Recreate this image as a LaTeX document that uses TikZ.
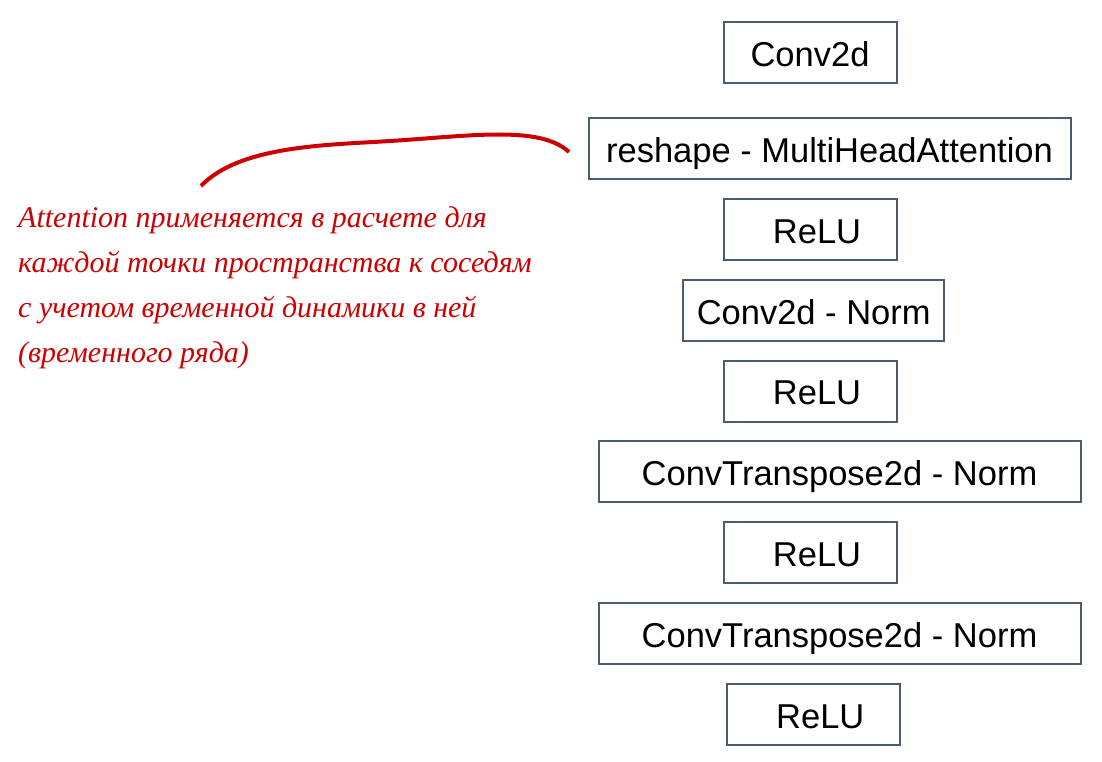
\documentclass[tikz,border=0pt]{standalone}
\usepackage{fontspec}
\setmainfont{Liberation Sans}
\newfontfamily\notefont{Liberation Serif}
\usepackage{tikz}
\definecolor{edge}{RGB}{77,91,112}
\definecolor{ink}{RGB}{204,0,0}
\def\rl{\hspace*{14pt}ReLU}

\begin{document}
\begin{tikzpicture}[x=1pt, y=-1pt,
    layer/.style={draw=edge, line width=2pt, minimum height=61pt, inner sep=0pt,
      text height=27.8pt, text depth=0pt, font=\fontsize{34.5}{40}\selectfont},
    note/.style={font=\notefont\itshape\fontsize{30}{45}\selectfont, text=ink,
      align=left, inner sep=0pt, anchor=north west}]
        \useasboundingbox (0,0) rectangle (1102,762);
        \foreach \n/\x/\y/\w/\t in {1/810/52.8/173/Conv2d,
            2/829.5/148.5/482/reshape - MultiHeadAttention,
            3/810/229.5/173/\rl,
            4/813.7/310.2/261/Conv2d - Norm,
            5/810/391/173/\rl,
            6/839.5/471.7/482/ConvTranspose2d - Norm,
            7/810/552.5/173/\rl,
            8/839.5/633.5/482/ConvTranspose2d - Norm,
            9/813.3/714.2/173/\rl}{
        \node[layer, minimum width=\w pt] (b\n) at (\x,\y) {\t};
        }
        \node[note] (txt) at (18,206) {Attention применяется в расчете для\\
          каждой точки пространства к соседям\\
          с учетом временной динамики в ней\\
          (временного ряда)};
        \coordinate (c0) at (201,186);
        \coordinate (c1) at (390,141);
        \coordinate (c2) at (569,152);
        \draw[ink, line width=4pt] (c0) .. controls (240,145) and (330,145) .. (c1)
          .. controls (470,136) and (540,125) .. (c2);
      \end{tikzpicture}
\end{document}
